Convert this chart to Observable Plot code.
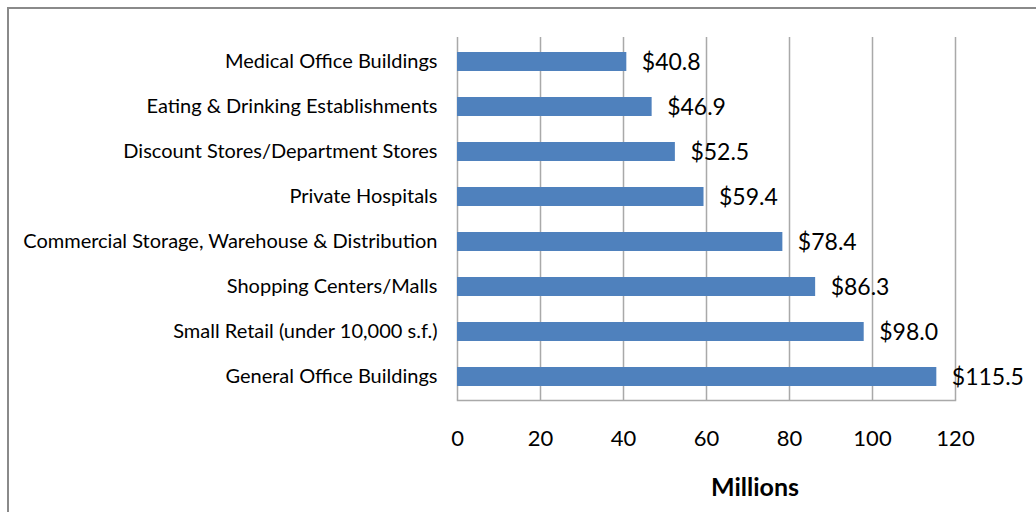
<!DOCTYPE html>
<html>
<head>
<meta charset="utf-8">
<script src="https://cdn.jsdelivr.net/npm/d3@7"></script>
<script src="https://cdn.jsdelivr.net/npm/@observablehq/plot@0.6"></script>
<style>
  html, body { margin: 0; padding: 0; background: #fff; overflow: hidden; }
  #wrap { position: relative; width: 1036px; height: 512px; overflow: hidden; font-family: Lato, "Open Sans", sans-serif; }
  #frame { position: absolute; left: 7px; top: 7px; width: 1200px; height: 700px; border: 2px solid #8a8a8a; box-sizing: border-box; }
  #chart { position: absolute; left: 0; top: 0; }
  #xlabel { position: absolute; top: 471px; left: 655px; width: 200px; text-align: center; font-weight: bold; font-size: 25px; color: #000; }
</style>
</head>
<body>
<div id="wrap">
  <div id="frame"></div>
  <div id="chart"></div>
  <div id="xlabel">Millions</div>
</div>
<script>
const categories = [
  "Medical Office Buildings",
  "Eating & Drinking Establishments",
  "Discount Stores/Department Stores",
  "Private Hospitals",
  "Commercial Storage, Warehouse & Distribution",
  "Shopping Centers/Malls",
  "Small Retail (under 10,000 s.f.)",
  "General Office Buildings"
];
const values = [40.8, 46.9, 52.5, 59.4, 78.4, 86.3, 98.0, 115.5];
const xTicks = [0, 20, 40, 60, 80, 100, 120];

const data = categories.map((c, i) => ({category: c, value: values[i]}));

const chart = Plot.plot({
  width: 1036,
  height: 512,
  marginLeft: 457,
  marginRight: 81,
  marginTop: 37,
  marginBottom: 112,
  style: {fontFamily: "Lato, 'Open Sans', sans-serif", background: "transparent", color: "#000"},
  x: {domain: [0, 120], ticks: xTicks},
  y: {domain: categories, paddingInner: 0.58, paddingOuter: 0.29},
  marks: [
    Plot.gridX(xTicks, {stroke: "#a9a9a9", strokeOpacity: 1, strokeWidth: 1.5}),
    Plot.frame({anchor: "bottom", stroke: "#a9a9a9", strokeWidth: 1.5}),
    Plot.barX(data, {x: "value", y: "category", fill: "#4f81bd"}),
    Plot.text(data, {x: "value", y: "category", text: d => "$" + d.value.toFixed(1), textAnchor: "start", dx: 15, dy: 1, fontSize: 23, fill: "#000"}),
    Plot.axisX(xTicks, {tickSize: 0, tickPadding: 30, fontSize: 22, label: null, fill: "#000"}),
    Plot.axisY({tickSize: 0, tickPadding: 20, fontSize: 20, label: null, fill: "#000"})
  ]
});
document.getElementById("chart").appendChild(chart);
</script>
</body>
</html>
